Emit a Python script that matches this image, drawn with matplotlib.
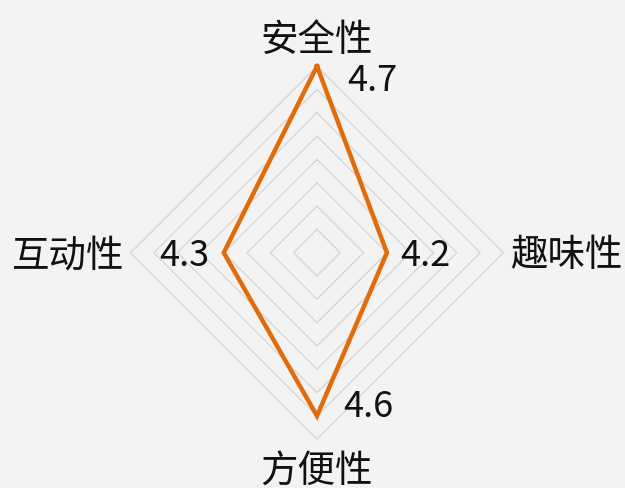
import numpy as np
import matplotlib
matplotlib.use("Agg")
import matplotlib.pyplot as plt

plt.rcParams['font.family'] = ['Noto Sans CJK SC', 'DejaVu Sans']

categories = ['安全性', '趣味性', '方便性', '互动性']
values = [4.7, 4.2, 4.6, 4.3]
r_min = 3.9
r_max = 4.7
ring_levels = [4.0, 4.1, 4.2, 4.3, 4.4, 4.5, 4.6, 4.7]

BG = '#f3f3f4'
ORANGE = '#e36c0a'
GRID = '#d4d4d4'
TXT = '#111111'

fig = plt.figure(figsize=(6.25, 4.88), dpi=100, facecolor=BG)
ax = fig.add_axes([0.2088, 0.1000, 0.5968, 0.7643], projection='polar')
ax.set_facecolor(BG)
ax.set_theta_zero_location('N')
ax.set_theta_direction(-1)
ax.set_ylim(r_min, r_max)
ax.grid(False)
ax.spines['polar'].set_visible(False)
ax.set_xticks([])
ax.set_yticks([])

angles = np.linspace(0, 2 * np.pi, len(categories), endpoint=False)
closed = np.concatenate([angles, angles[:1]])

# diamond grid
for lv in ring_levels:
    ax.plot(closed, [lv] * len(closed), color=GRID, lw=0.9, zorder=1,
            clip_on=False)

# data line
vals = values + values[:1]
ax.plot(closed, vals, color=ORANGE, lw=3.2, zorder=3, solid_joinstyle='miter',
        clip_on=False)

# category labels, placed off the outer ring
cat_off = [((0, 26), 'center'), ((7, -3), 'left'), ((0, -33), 'center'),
           ((-7, -3), 'right')]
for ang, name, (off, ha) in zip(angles, categories, cat_off):
    ax.annotate(name, xy=(ang, r_max), xytext=off, textcoords='offset pixels',
                ha=ha, va='center', fontsize=27, color=TXT,
                annotation_clip=False)

# value labels
offsets = [(55, -15), (38, -3), (51, 9), (-39, -3)]
for ang, v, off in zip(angles, values, offsets):
    ax.annotate(f'{v}', xy=(ang, v), xytext=off, textcoords='offset pixels',
                ha='center', va='center', fontsize=26, color=TXT,
                annotation_clip=False)

plt.savefig('out.png', dpi=100, facecolor=BG)
